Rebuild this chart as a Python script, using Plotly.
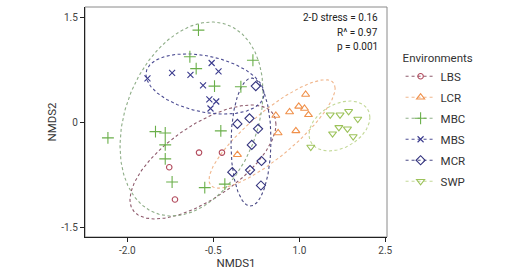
import numpy as np
import plotly.graph_objects as go

# ---------------- data ----------------
groups = ["LBS", "LCR", "MBC", "MBS", "MCR", "SWP"]

lbs_x = [-0.75, -1.27, -1.17, -0.35]
lbs_y = [-0.43, -0.64, -1.10, -0.43]

lcr_x = [1.11, 0.83, 0.99, 1.09, 1.16, 0.59, 0.63, 0.94, -0.08]
lcr_y = [0.40, 0.15, 0.23, 0.20, 0.11, 0.10, -0.15, -0.12, -0.46]

mbc_x = [-0.76, -0.91, -0.80, -0.48, 0.19, -0.02, -2.34, -1.51, -1.34, -1.34, -1.34, -1.22, -0.65, -0.37, -0.30]
mbc_y = [1.32, 0.94, 0.77, 0.52, 0.89, 0.51, -0.22, -0.13, -0.15, -0.32, -0.52, -0.85, -0.93, -0.12, -0.88]

mbs_x = [-1.65, -1.22, -0.90, -0.53, -0.41, -0.68, -0.57, -0.45, -0.55]
mbs_y = [0.63, 0.71, 0.68, 0.85, 0.73, 0.53, 0.33, 0.30, 0.20]

mcr_x = [0.24, 0.13, -0.08, 0.28, 0.17, 0.34, -0.17, 0.14, 0.33]
mcr_y = [0.52, 0.06, -0.02, -0.09, -0.32, -0.55, -0.71, -0.68, -0.90]

swp_x = [1.54, 1.71, 1.86, 2.02, 1.69, 1.84, 1.58, 1.94, 1.20]
swp_y = [0.11, 0.11, 0.16, 0.05, -0.07, -0.09, -0.16, -0.20, -0.35]

# ellipse parameters per group (centre, half-extents, correlation), same order as groups
ell_cx = [-0.681, 0.524, -0.881, -0.646, 0.157, 1.70]
ell_cy = [-0.564, -0.164, 0.05, 0.55, -0.279, -0.05]
ell_ex = [1.274, 1.101, 1.248, 1.03, 0.349, 0.532]
ell_ey = [0.814, 0.774, 1.386, 0.43, 0.914, 0.357]
ell_r = [0.66, 0.844, 0.28, -0.32, 0.03, 0.344]

x_ticks = [-2.0, -0.5, 1.0, 2.5]
x_ticktext = ["-2.0", "-0.5", "1.0", "2.5"]
y_ticks = [-1.5, 0, 1.5]
y_ticktext = ["-1.5", "0", "1.5"]

stats_text = ["2-D stress = 0.16", "R^ = 0.97", "p = 0.001"]

# ---------------- styles ----------------
xs = [lbs_x, lcr_x, mbc_x, mbs_x, mcr_x, swp_x]
ys = [lbs_y, lcr_y, mbc_y, mbs_y, mcr_y, swp_y]
symbols = ["circle-open", "triangle-up-open", "cross-thin-open", "x-thin-open", "diamond-open", "triangle-down-open"]
sizes = [5.5, 7, 8.5, 6, 7, 7]
pt_colors = ["#b24a5c", "#f0904a", "#6aaf4a", "#3b3b8e", "#33337e", "#9cc25a"]
ell_colors = ["#8e5a6c", "#f0b68c", "#8fae88", "#4e4e94", "#4a4a86", "#c2d896"]

FONT = "Roboto"

fig = go.Figure()
t = np.linspace(0, 2 * np.pi, 241)
for i, g in enumerate(groups):
    r = ell_r[i]
    ex_pts = ell_cx[i] + ell_ex[i] * np.cos(t)
    ey_pts = ell_cy[i] + ell_ey[i] * (r * np.cos(t) + np.sqrt(1 - r * r) * np.sin(t))
    fig.add_trace(go.Scatter(
        x=ex_pts, y=ey_pts, mode="lines",
        line=dict(color=ell_colors[i], width=1.1, dash="3px,2.5px"),
        showlegend=False, hoverinfo="skip"))

for i, g in enumerate(groups):
    fig.add_trace(go.Scatter(
        x=xs[i], y=ys[i], mode="markers", name=g, showlegend=False,
        marker=dict(symbol=symbols[i], size=sizes[i], color=pt_colors[i],
                    line=dict(width=1.1, color=pt_colors[i]))))

for i, g in enumerate(groups):
    fig.add_trace(go.Scatter(
        x=[None], y=[None], mode="lines+markers", name=g, legendgroup=g,
        line=dict(color=ell_colors[i], width=1, dash="3px,3px"),
        marker=dict(symbol=symbols[i], size=sizes[i], color=pt_colors[i],
                    line=dict(width=1.1, color=pt_colors[i]))))

stat_y = [0.9565, 0.890, 0.827]
for txt, yy in zip(stats_text, stat_y):
    fig.add_annotation(
        x=0.977, y=yy, xref="paper", yref="paper", xanchor="right", yanchor="middle",
        text=txt, showarrow=False, align="right",
        font=dict(family=FONT, size=10, color="#222"))

fig.add_shape(type="rect", xref="paper", yref="paper", x0=0, x1=1, y0=0, y1=1,
              line=dict(color="#8a8a8a", width=1), layer="below")

fig.update_layout(
    width=528, height=273,
    margin=dict(l=85, r=141, t=7, b=36, autoexpand=False),
    paper_bgcolor="white", plot_bgcolor="white",
    font=dict(family=FONT, size=10, color="#333"),
    xaxis=dict(range=[-2.74, 2.53], tickvals=x_ticks, ticktext=x_ticktext, automargin=False,
               showgrid=False, zeroline=False, showline=True, linecolor="#222", linewidth=1.3,
               ticks="outside", ticklen=4, tickcolor="#222", tickfont=dict(size=10, color="#444"),
               title=dict(text="NMDS1", font=dict(size=11.5, color="#333"), standoff=3)),
    yaxis=dict(range=[-1.636, 1.65], tickvals=y_ticks, ticktext=y_ticktext, automargin=False,
               showgrid=False, zeroline=False, showline=True, linecolor="#222", linewidth=1.3,
               ticks="outside", ticklen=4, tickcolor="#222", tickfont=dict(size=10, color="#444"),
               title=dict(text="NMDS2", font=dict(size=11.5, color="#333"), standoff=2)),
    legend=dict(x=1.045, y=0.827, xanchor="left", yanchor="top",
                title=dict(text="Environments", font=dict(size=11.5, color="#333")),
                font=dict(size=11.5, color="#333"), bgcolor="rgba(0,0,0,0)",
                itemwidth=30, tracegroupgap=2),
)

fig.write_html("out.html", config={"displayModeBar": False},
               post_script="document.body.style.margin='0';")
